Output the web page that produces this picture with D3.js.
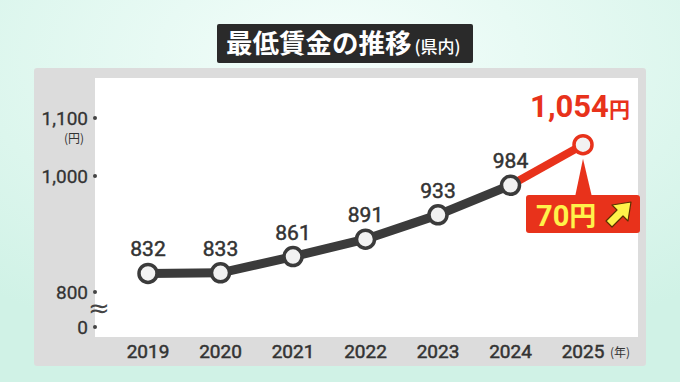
<!DOCTYPE html>
<html>
<head>
<meta charset="utf-8">
<script src="https://cdn.jsdelivr.net/npm/d3@7"></script>
<style>
  html, body { margin: 0; padding: 0; }
  body { width: 680px; height: 382px; overflow: hidden; }
  svg text { font-family: Roboto, "Noto Sans CJK JP", sans-serif; }
</style>
</head>
<body>
<svg id="chart" width="680" height="382"></svg>
<script>
// data
var years = ["2019", "2020", "2021", "2022", "2023", "2024", "2025"];
var wages = [832, 833, 861, 891, 933, 984, 1054];
var yTicks = [0, 800, 1000, 1100];
var yTickLabels = ["0", "800", "1,000", "1,100"];
var increase = "70";

var svg = d3.select("#chart");
var JP = "'Noto Sans CJK JP', sans-serif";

// background gradient
var defs = svg.append("defs");
var bg = defs.append("radialGradient")
    .attr("id", "bg")
    .attr("cx", "50%").attr("cy", "15%").attr("r", "80%");
bg.append("stop").attr("offset", "0%").attr("stop-color", "#f4fefb");
bg.append("stop").attr("offset", "100%").attr("stop-color", "#d0f2e6");
svg.append("rect")
    .attr("width", 680).attr("height", 382)
    .attr("fill", "url(#bg)");

// gray panel + white plot area
svg.append("rect")
    .attr("x", 34).attr("y", 68)
    .attr("width", 612).attr("height", 298)
    .attr("rx", 3)
    .attr("fill", "#dcdcdc");
svg.append("rect")
    .attr("x", 95).attr("y", 78)
    .attr("width", 543).attr("height", 259)
    .attr("fill", "#ffffff");

// title
svg.append("rect")
    .attr("x", 217).attr("y", 24)
    .attr("width", 256).attr("height", 39)
    .attr("rx", 2)
    .attr("fill", "#2a2a2a");
var title = svg.append("text")
    .attr("x", 226).attr("y", 53)
    .attr("fill", "#ffffff")
    .style("font-family", JP)
    .style("font-weight", 700);
title.append("tspan").attr("font-size", 26.5).text("最低賃金の推移");
title.append("tspan").attr("font-size", 17).attr("dx", 3).style("font-weight", 500).text("(県内)");

// scales: broken axis below 800
var x = d3.scalePoint()
    .domain(years)
    .range([148, 583]);
var y = d3.scaleLinear()
    .domain([0, 800, 1100])
    .range([327, 292, 118]);

// y axis: dots + labels
var yAxis = svg.append("g").attr("class", "y-axis");
yAxis.selectAll("circle")
    .data(yTicks)
    .enter().append("circle")
    .attr("cx", 95)
    .attr("cy", function(d) { return y(d); })
    .attr("r", 2)
    .attr("fill", "#444");
yAxis.selectAll("text")
    .data(yTicks)
    .enter().append("text")
    .attr("x", 88)
    .attr("y", function(d) { return y(d) + 7; })
    .attr("text-anchor", "end")
    .attr("font-size", 19)
    .attr("fill", "#333")
    .attr("stroke", "#333")
    .attr("stroke-width", 0.3)
    .text(function(d, i) { return yTickLabels[i]; });
svg.append("text")
    .attr("x", 74).attr("y", 143)
    .attr("text-anchor", "middle")
    .attr("font-size", 12)
    .attr("fill", "#333")
    .style("font-family", JP)
    .text("(円)");
// break mark
svg.append("text")
    .attr("x", 99).attr("y", 317)
    .attr("text-anchor", "middle")
    .attr("font-size", 26)
    .attr("fill", "#444")
    .style("font-family", "'DejaVu Sans', sans-serif")
    .text("≈");

// x axis labels
var xAxis = svg.append("g").attr("class", "x-axis");
xAxis.selectAll("text")
    .data(years)
    .enter().append("text")
    .attr("x", function(d) { return x(d); })
    .attr("y", 358)
    .attr("text-anchor", "middle")
    .attr("font-size", 19)
    .attr("fill", "#333")
    .attr("stroke", "#333")
    .attr("stroke-width", 0.5)
    .text(function(d) { return d; });
svg.append("text")
    .attr("x", 620).attr("y", 357)
    .attr("text-anchor", "middle")
    .attr("font-size", 12)
    .attr("fill", "#333")
    .style("font-family", JP)
    .text("(年)");

var pts = years.map(function(d, i) { return [x(d), y(wages[i])]; });
var line = d3.line();

// gray line up to 2024, red segment to 2025
svg.append("path")
    .attr("d", line(pts.slice(0, 6)))
    .attr("fill", "none")
    .attr("stroke", "#3b3b3b")
    .attr("stroke-width", 9)
    .attr("stroke-linejoin", "round");
svg.append("path")
    .attr("d", line(pts.slice(5)))
    .attr("fill", "none")
    .attr("stroke", "#e8321b")
    .attr("stroke-width", 8);

// callout pointer + box
var last = pts[6];
svg.append("path")
    .attr("d", "M" + (last[0] - 8) + ",197 L" + last[0] + "," + (last[1] + 14) +
               " L" + (last[0] + 9) + ",197 Z")
    .attr("fill", "#e8321b");
svg.append("rect")
    .attr("x", 526).attr("y", 195)
    .attr("width", 114).attr("height", 38)
    .attr("rx", 3)
    .attr("fill", "#e8321b");
var callout = svg.append("text")
    .attr("x", 536).attr("y", 226)
    .attr("fill", "#fff24a")
    .attr("font-weight", 700);
callout.append("tspan").attr("font-size", 29).text(increase);
callout.append("tspan").attr("font-size", 27).style("font-family", JP).text("円");
// arrow
svg.append("path")
    .attr("d", "M606,221 L617,210 L612,205 L631,202 L628,221 L623,216 L612,227 Z")
    .attr("fill", "#fff24a")
    .attr("stroke", "#5a3000")
    .attr("stroke-width", 1.2)
    .attr("stroke-linejoin", "round");

// points
svg.selectAll("circle.pt")
    .data(pts)
    .enter().append("circle")
    .attr("class", "pt")
    .attr("cx", function(d) { return d[0]; })
    .attr("cy", function(d) { return d[1]; })
    .attr("r", 9)
    .attr("fill", "#f2f2f2")
    .attr("stroke", function(d, i) { return i == 6 ? "#e8321b" : "#3b3b3b"; })
    .attr("stroke-width", 3.5);

// value labels
svg.selectAll("text.val")
    .data(wages.slice(0, 6))
    .enter().append("text")
    .attr("class", "val")
    .attr("x", function(d, i) { return pts[i][0]; })
    .attr("y", function(d, i) { return pts[i][1] - 17; })
    .attr("text-anchor", "middle")
    .attr("font-size", 21)
    .attr("fill", "#333")
    .attr("stroke", "#333")
    .attr("stroke-width", 0.5)
    .text(function(d) { return d; });

var big = svg.append("text")
    .attr("x", last[0] - 3).attr("y", 117)
    .attr("text-anchor", "middle")
    .attr("fill", "#e8321b")
    .attr("font-weight", 700);
big.append("tspan").attr("font-size", 31).text(d3.format(",")(wages[6]));
big.append("tspan").attr("font-size", 21).style("font-family", JP).text("円");
</script>
</body>
</html>
